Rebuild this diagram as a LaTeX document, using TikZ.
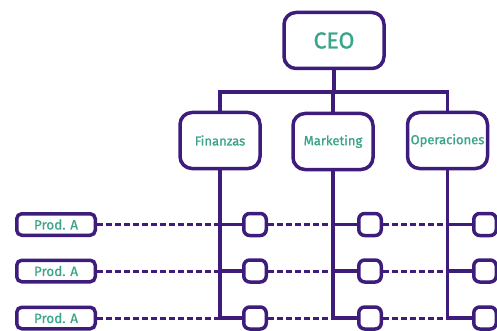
\documentclass[tikz,border=0pt]{standalone}
\usepackage{fontspec}
\setmainfont{Fira Sans}[FakeBold=1.2]
\newfontfamily\prodfont{Fira Sans}[FakeBold=0.6]
\definecolor{purp}{HTML}{3E1C7C}
\definecolor{tealc}{HTML}{3AA58B}
\begin{document}
\begin{tikzpicture}[x=1pt,y=-1pt,
  box/.style={draw=purp, fill=white, rounded corners=12pt, line width=3.5pt,
     text=tealc, inner sep=0pt, font=\fontsize{13}{15}\selectfont},
  ceobox/.style={box, minimum width=100pt, minimum height=56pt, font=\fontsize{23}{26}\selectfont},
  deptbox/.style={box, minimum width=80pt, minimum height=56pt},
  sq/.style={draw=purp, fill=white, rounded corners=6pt, line width=3.5pt,
     minimum width=22.5pt, minimum height=22pt, inner sep=0pt},
  prod/.style={box, rounded corners=5pt, minimum width=78.5pt, minimum height=21.5pt,
     font=\prodfont\fontsize{13.5}{15}\selectfont},
  link/.style={draw=purp, line width=3.5pt},
  dashlink/.style={draw=purp, line width=3pt, dash pattern=on 5.5pt off 3.5pt}
]
\useasboundingbox (0,0) rectangle (497,331);
\node[ceobox] (ceo) at (334,40.5) {CEO};
\node[deptbox] (fin) at (220,140.5) {Finanzas};
\node[deptbox] (mkt) at (333,141.5) {Marketing};
\node[deptbox] (ope) at (447.5,140.5) {Operaciones};
\coordinate (bar) at (334,92);
\draw[link] (ceo.south) -- (bar);
\draw[link] (fin.north) |- (bar) -| (ope.north);
\draw[link] (bar -| mkt.north) -- (mkt.north);
% squares
\foreach \r/\y in {1/224.5,2/271,3/318}{
  \node[sq] (a\r) at (255,\y) {};
  \node[sq] (b\r) at (370,\y) {};
  \node[sq] (c\r) at (485,\y) {};
  \node[prod] (p\r) at (56,\y) {Prod. A};
}
% verticals with L to last square
\draw[link] (fin.south) |- (a3.west);
\draw[link] (mkt.south) |- (b3.west);
\draw[link] (ope.south) |- (c3.west);
\foreach \r in {1,2}{
  \draw[link] (fin.south |- a\r.west) -- (a\r.west);
  \draw[link] (mkt.south |- b\r.west) -- (b\r.west);
  \draw[link] (ope.south |- c\r.west) -- (c\r.west);
}
\foreach \r in {1,2,3}{
  \draw[dashlink] (p\r.east) -- (p\r.east -| fin.south);
  \draw[dashlink] (a\r.east) -- (a\r.east -| mkt.south);
  \draw[dashlink] (b\r.east) -- (b\r.east -| ope.south);
}
\end{tikzpicture}
\end{document}
